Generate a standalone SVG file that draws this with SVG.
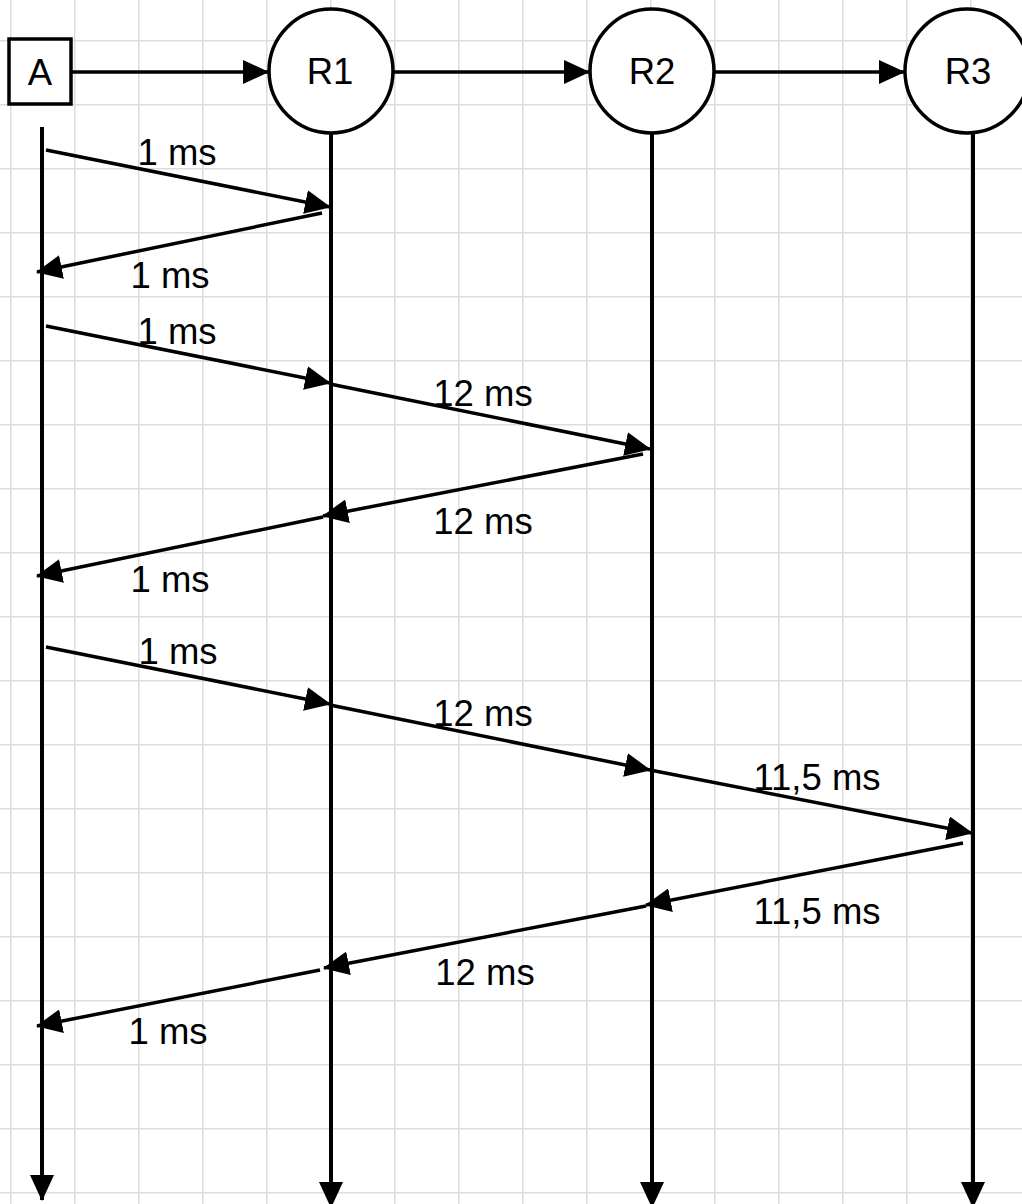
<svg xmlns="http://www.w3.org/2000/svg" width="1022" height="1204" viewBox="0 0 1022 1204">
<defs>
<pattern id="grid" x="10" y="40" width="64" height="64" patternUnits="userSpaceOnUse">
<path d="M0,0 H64 M0,0 V64" fill="none" stroke="#dddddd" stroke-width="3"/>
</pattern>
<marker id="ah" markerUnits="userSpaceOnUse" viewBox="0 0 26 24" markerWidth="26" markerHeight="24" refX="25" refY="12" orient="auto">
<path d="M0,0 L26,12 L0,24 Z" fill="#000"/>
</marker>
</defs>
<style>
.ln{fill:none;stroke:#000;stroke-width:3.5;marker-end:url(#ah)}
.life{fill:none;stroke:#000;stroke-width:4;marker-end:url(#ah)}
.shape{fill:#fff;stroke:#000;stroke-width:3.5}
text{font-family:"Liberation Sans",Arial,sans-serif;font-size:36.5px;fill:#000;text-anchor:middle}
</style>
<rect width="1022" height="1204" fill="#fff"/>
<rect width="1022" height="1204" fill="url(#grid)"/>
<g id="connectors">
<line class="ln" x1="72" y1="72" x2="268" y2="72"/>
<line class="ln" x1="394" y1="72" x2="589" y2="72"/>
<line class="ln" x1="715" y1="72" x2="904" y2="72"/>
<line class="life" x1="42" y1="127" x2="42" y2="1200"/>
<line class="life" x1="331" y1="134" x2="331" y2="1207"/>
<line class="life" x1="652" y1="134" x2="652" y2="1207"/>
<line class="life" x1="973" y1="134" x2="973" y2="1207"/>
<line class="ln" x1="46" y1="150" x2="330" y2="207"/>
<line class="ln" x1="322" y1="213" x2="37" y2="272"/>
<line class="ln" x1="46" y1="326" x2="330" y2="383"/>
<line class="ln" x1="330" y1="384" x2="650" y2="449"/>
<line class="ln" x1="643" y1="454" x2="323" y2="516"/>
<line class="ln" x1="323" y1="517" x2="37" y2="576"/>
<line class="ln" x1="46" y1="647" x2="330" y2="704"/>
<line class="ln" x1="330" y1="705" x2="650" y2="770"/>
<line class="ln" x1="650" y1="770" x2="972" y2="833"/>
<line class="ln" x1="963" y1="843" x2="646" y2="905"/>
<line class="ln" x1="646" y1="906" x2="324" y2="968"/>
<line class="ln" x1="320" y1="970" x2="37" y2="1026"/>
<text x="177" y="165">1 ms</text>
<text x="170" y="288">1 ms</text>
<text x="177" y="344">1 ms</text>
<text x="483" y="406">12 ms</text>
<text x="483" y="534">12 ms</text>
<text x="170" y="592">1 ms</text>
<text x="178" y="664">1 ms</text>
<text x="483" y="726">12 ms</text>
<text x="817" y="790">11,5 ms</text>
<text x="817" y="924">11,5 ms</text>
<text x="485" y="985">12 ms</text>
<text x="168" y="1044">1 ms</text>
</g>
<g id="A">
<rect class="shape" x="9" y="39" width="62" height="65"/>
<text x="40" y="85">A</text>
</g>
<g id="R1">
<circle class="shape" cx="331" cy="71" r="62"/>
<text x="330" y="84">R1</text>
</g>
<g id="R2">
<circle class="shape" cx="652" cy="71" r="62"/>
<text x="652" y="84">R2</text>
</g>
<g id="R3">
<circle class="shape" cx="967" cy="71" r="62"/>
<text x="968" y="84">R3</text>
</g>
</svg>
